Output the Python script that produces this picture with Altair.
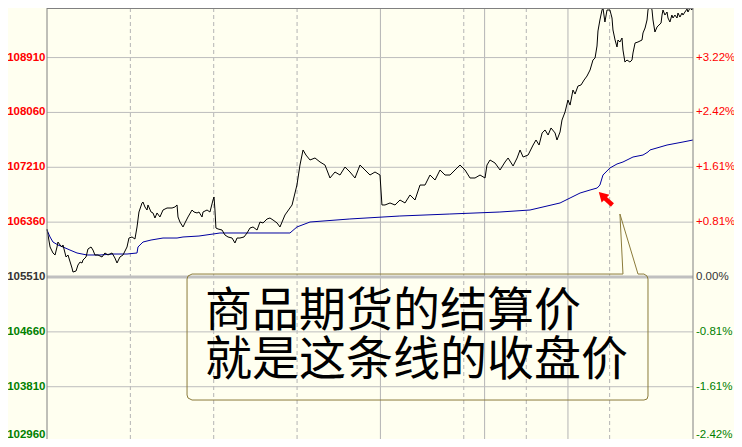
import altair as alt
import pandas as pd

# ---- data (minutes since 21:00 session open, price) ----
price_t = [0, 2.2, 4.3, 5.8, 7.2, 7.9, 9.4, 10.8, 11.5, 13.7,
           15.1, 18.0, 18.7, 20.9, 22.3, 23.8, 25.2, 25.9, 28.1, 29.5,
           31.7, 33.1, 34.5, 36.7, 39.6, 41.7, 43.9, 46.8, 48.9, 50.4,
           52.5, 54.7, 57.6, 59.0, 61.2, 63.3, 64.8, 66.2, 68.4, 69.1,
           70.5, 72.0, 72.7, 74.9, 76.3, 77.7, 79.2, 81.3, 83.5, 86.4,
           90.0, 92.1, 93.6, 94.3, 95.7, 97.9, 99.3, 101.5, 104.4, 105.8,
           108.0, 109.4, 111.6, 112.3, 115.2, 117.3, 119.5, 120.2, 120.9, 121.6,
           123.1, 126.0, 128.1, 130.3, 133.2, 135.3, 136.8, 138.9, 141.8, 144.0,
           146.1, 148.3, 151.2, 153.3, 155.5, 158.4, 160.5, 162.7, 165.6, 167.7,
           171.3, 176.4, 179.9, 182.1, 184.3, 186.4, 189.3, 192.9, 196.5, 200.1,
           203.7, 207.3, 210.9, 214.5, 218.1, 221.7, 225.3, 228.9, 232.5, 236.1,
           239.7, 241.1, 243.3, 246.9, 250.5, 254.1, 257.7, 261.3, 264.9, 268.5,
           272.1, 275.7, 279.3, 282.9, 286.5, 290.1, 293.7, 297.3, 300.9, 304.5,
           308.1, 311.7, 315.3, 316.7, 318.9, 322.5, 326.1, 329.7, 331.9, 335.5,
           338.4, 340.5, 342.7, 346.3, 349.9, 352.0, 354.2, 356.4, 358.5, 360.7,
           362.8, 365.7, 367.1, 369.3, 370.7, 372.9, 375.0, 376.5, 378.6, 380.1,
           382.2, 384.4, 386.6, 388.7, 390.9, 393.0, 394.5, 395.9, 396.6, 398.0,
           399.5, 400.2, 401.6, 403.1, 405.2, 406.7, 407.4, 408.9, 410.3, 411.0,
           412.4, 413.9, 414.6, 416.0, 417.5, 419.6, 421.1, 421.8, 423.3, 425.4,
           428.3, 429.0, 430.5, 431.9, 432.6, 434.0, 435.5, 436.2, 437.6, 439.1,
           440.5, 442.0, 442.7, 443.4, 444.8, 446.3, 447.0, 448.4, 449.8, 450.6,
           452.0, 453.5, 454.2, 455.6, 457.1, 457.8, 459.2, 460.7, 461.4, 462.8,
           464.2, 465.0]
price_v = [106254, 105975, 105882, 105851, 105975, 106052, 106006, 105975, 106006, 105820,
           105851, 105649, 105587, 105603, 105696, 105742, 105727, 105773, 105820, 105944,
           105975, 105928, 105851, 105851, 105820, 105882, 105851, 105882, 105804, 105727,
           105820, 105851, 105975, 106114, 106130, 106099, 106285, 106517, 106657, 106672,
           106595, 106548, 106626, 106517, 106502, 106424, 106502, 106440, 106548, 106579,
           106579, 106595, 106626, 106440, 106362, 106285, 106347, 106440, 106548, 106517,
           106502, 106517, 106440, 106517, 106548, 106517, 106703, 106750, 106548, 106269,
           106254, 106238, 106161, 106130, 106114, 106037, 106114, 106114, 106130, 106192,
           106269, 106285, 106238, 106362, 106347, 106409, 106424, 106393, 106347, 106285,
           106471, 106626, 106935, 107245, 107478, 107400, 107323, 107354, 107292, 107245,
           107044, 107137, 107090, 107214, 107137, 107044, 107245, 107168, 107090, 107137,
           107090, 106626, 106626, 106657, 106626, 106703, 106657, 106781, 106703, 106935,
           106935, 107090, 107013, 107168, 107090, 107090, 107168, 107245, 107168, 107044,
           107044, 107090, 107044, 107245, 107323, 107276, 107168, 107292, 107354, 107230,
           107354, 107478, 107369, 107400, 107555, 107633, 107555, 107742, 107788, 107710,
           107819, 107742, 107633, 107757, 107942, 108067, 108252, 108174, 108407, 108345,
           108469, 108485, 108562, 108624, 108717, 108872, 108903, 109089, 109322, 109492,
           109647, 109678, 109461, 109647, 109647, 109523, 109337, 109182, 109074, 109182,
           109151, 109213, 109027, 108841, 108872, 108841, 108872, 108981, 109136, 109151,
           109182, 109291, 109368, 109492, 109647, 109755, 109647, 109492, 109306, 109383,
           109414, 109445, 109569, 109647, 109569, 109616, 109523, 109461, 109569, 109523,
           109569, 109523, 109600, 109538, 109600, 109569, 109616, 109662, 109616, 109678,
           109647, 109693]

avg_t = [0, 2.2, 4.3, 7.9, 11.5, 16.5, 21.6, 28.8, 38.2, 47.5,
         57.6, 64.8, 65.5, 69.1, 74.9, 83.5, 93.6, 97.9, 109.4, 119.5,
         124.5, 167.7, 174.9, 179.9, 189.3, 218.0, 254.0, 290.0, 326.0, 347.7,
         369.3, 376.5, 383.7, 390.9, 396.0, 398.0, 400.2, 405.2, 410.3, 414.6,
         417.5, 421.8, 429.0, 432.6, 434.0, 446.3, 457.8, 465.0]
avg_v = [106238, 106130, 106052, 106006, 105975, 105928, 105882, 105851, 105851, 105866,
         105866, 105882, 105975, 106052, 106083, 106114, 106114, 106130, 106145, 106176,
         106192, 106192, 106192, 106285, 106362, 106409, 106455, 106486, 106517, 106548,
         106657, 106734, 106811, 106858, 106889, 106935, 107090, 107199, 107261, 107292,
         107323, 107369, 107400, 107447, 107478, 107555, 107602, 107633]

left_ticks = [108910, 108060, 107210, 106360, 105510, 104660, 103810, 102960]
right_labels = ["+3.22%", "+2.42%", "+1.61%", "+0.81%", "0.00%", "-0.81%", "-1.61%", "-2.42%"]
base_price = 105510

dashed_t = [60, 120, 180, 300, 345, 405]
solid_t = [240, 315, 375]

# callout annotation (data units)
box_t = [414.6, 104.4, 101.5, 100.8, 100.8, 101.5, 104.4, 429.7, 431.9, 432.6,
         432.6, 431.9, 429.7, 425.4, 412.4, 414.6]
box_v = [105556, 105556, 105525, 105479, 103682, 103635, 103604, 103604, 103620, 103666,
         105479, 105525, 105556, 105556, 106486, 105556]
note_lines = ["商品期货的结算价", "就是这条线的收盘价"]
note_t = 113.7
note_v = 104968
arrow_t = [407.0, 401.3]
arrow_v = [106625, 106735]
arrow_head = (399.6, 106775)

# ---- layout ----
W, H = 646, 431
XMIN, XMAX = 0, 465
YMAX = 109678
YMIN = 103000
BG = "#FFFFF0"
FRAME = "#808080"

xs = alt.Scale(domain=[XMIN, XMAX], nice=False, zero=False)
ys = alt.Scale(domain=[YMIN, YMAX], nice=False, zero=False)

def X(f="t"):
    return alt.X(f"{f}:Q", scale=xs, axis=None)

def Y(f="v"):
    return alt.Y(f"{f}:Q", scale=ys, axis=None)

price_df = pd.DataFrame({"t": price_t, "v": price_v})
avg_df = pd.DataFrame({"t": avg_t, "v": avg_v})
grid_df = pd.DataFrame({"v": [v for v in left_ticks if v != base_price]})
base_df = pd.DataFrame({"v": [base_price]})
dash_df = pd.DataFrame({"t": dashed_t})
solid_df = pd.DataFrame({"t": solid_t})

def col(v):
    if v > base_price:
        return "#FF0000"
    if v < base_price:
        return "#008000"
    return "#333333"

lowest = min(left_ticks)
lab_df = pd.DataFrame({
    "v": left_ticks,
    "lab": [str(v) for v in left_ticks],
    "pct": right_labels,
    "c": [col(v) for v in left_ticks],
    "edge": [v == lowest for v in left_ticks],
})
box_df = pd.DataFrame({"t": box_t, "v": box_v, "i": list(range(len(box_t)))})
note_df = pd.DataFrame({"t": [note_t], "v": [note_v], "txt": ["\n".join(note_lines)]})
arrow_df = pd.DataFrame({"t": arrow_t, "v": arrow_v, "i": [0, 1]})
head_df = pd.DataFrame({"t": [arrow_head[0]], "v": [arrow_head[1]]})

vdash = alt.Chart(dash_df).mark_rule(color="#B4B4B4", strokeDash=[4, 3], strokeWidth=1).encode(x=X())
vsolid = alt.Chart(solid_df).mark_rule(color="#B4B4B4", strokeWidth=1).encode(x=X())
hgrid = alt.Chart(grid_df).mark_rule(color="#BDBDBD", strokeWidth=1).encode(y=Y())
hbase = alt.Chart(base_df).mark_rule(color="#C0C0C0", strokeWidth=3).encode(y=Y())

# frame: left, top, right (bottom runs off the picture)
frame_l = alt.Chart().mark_rule(color=FRAME, strokeWidth=1).encode(
    x=alt.value(0), y=alt.value(0), y2=alt.value(H))
frame_r = alt.Chart().mark_rule(color=FRAME, strokeWidth=1).encode(
    x=alt.value(W), y=alt.value(0), y2=alt.value(H))
frame_t = alt.Chart().mark_rule(color=FRAME, strokeWidth=2).encode(
    x=alt.value(0), x2=alt.value(W), y=alt.value(0))

avg_line = alt.Chart(avg_df).mark_line(color="#0000A0", strokeWidth=1).encode(x=X(), y=Y())
price_line = alt.Chart(price_df).mark_line(color="#000000", strokeWidth=1).encode(x=X(), y=Y())

box = alt.Chart(box_df).mark_line(color="#8B7B3A", strokeWidth=1).encode(
    x=X(), y=Y(), order="i:Q")
note = alt.Chart(note_df).mark_text(
    align="left", baseline="middle", font="Noto Sans CJK SC", fontSize=47,
    lineBreak="\n", lineHeight=49, color="#000000"
).encode(x=X(), y=Y(), text="txt:N")

arrow_shaft = alt.Chart(arrow_df).mark_line(color="#FF0000", strokeWidth=4.5).encode(
    x=X(), y=Y(), order="i:Q")
arrow_tip = alt.Chart(head_df).mark_point(
    shape="triangle-up", filled=True, color="#FF0000", size=120, angle=315, opacity=1
).encode(x=X(), y=Y())

def labels(field, x, align, weight, edge):
    return alt.Chart(lab_df).transform_filter(
        f"datum.edge == {'true' if edge else 'false'}"
    ).mark_text(
        align=align, baseline="middle", font="Liberation Sans", fontSize=11.5,
        fontWeight=weight, dy=-7 if edge else 0
    ).encode(x=x, y=Y(), text=f"{field}:N", color=alt.Color("c:N", scale=None))

left_a = labels("lab", alt.value(-1.5), "right", "bold", False)
left_b = labels("lab", alt.value(-1.5), "right", "bold", True)
right_a = labels("pct", alt.value(W + 3), "left", "normal", False)
right_b = labels("pct", alt.value(W + 3), "left", "normal", True)

chart = alt.layer(
    vdash, vsolid, hgrid, hbase, avg_line, price_line, box, note,
    arrow_shaft, arrow_tip, frame_l, frame_r, frame_t, left_a, left_b, right_a, right_b
).properties(
    width=W, height=H, background=BG,
    padding={"left": 39, "top": 0, "right": 41, "bottom": 0},
    autosize=alt.AutoSizeParams(type="none"),
).configure_view(stroke=None, fill=BG)

chart.save("out.html", embed_options={"renderer": "svg", "actions": False})
